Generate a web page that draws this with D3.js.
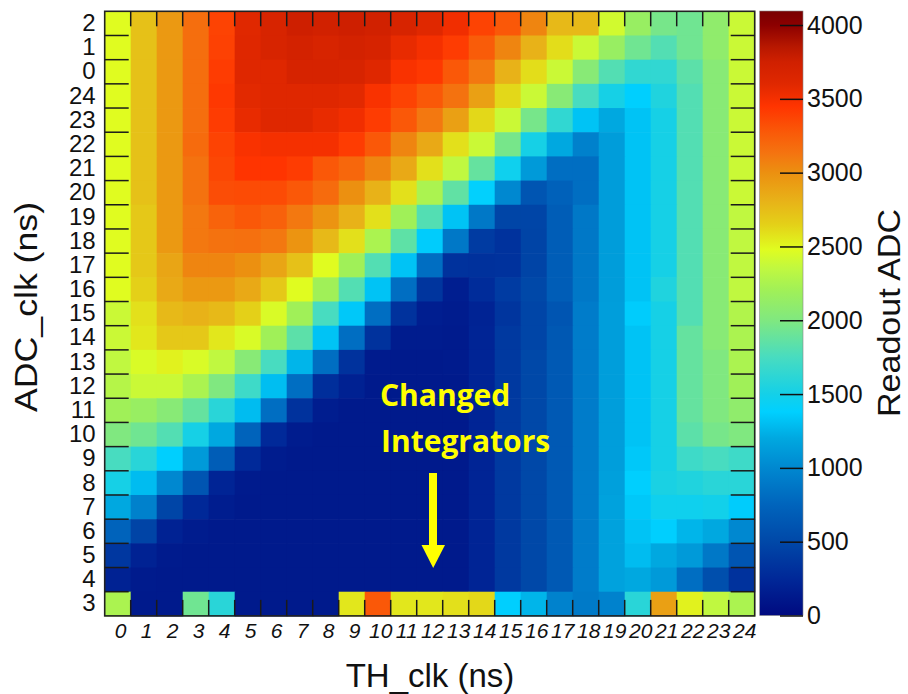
<!DOCTYPE html>
<html><head><meta charset="utf-8">
<script src="https://cdn.jsdelivr.net/npm/d3@7"></script>
<style>body{margin:0;background:#fff}svg{display:block}</style>
</head><body>
<svg id="c" width="908" height="694"></svg>
<script>
// ---- data ----
const xLabels = ["0","1","2","3","4","5","6","7","8","9","10","11","12","13","14","15","16","17","18","19","20","21","22","23","24"];
const yLabels = ["2","1","0","24","23","22","21","20","19","18","17","16","15","14","13","12","11","10","9","8","7","6","5","4","3"]; // top to bottom
const values = [
[2480,2730,2950,3160,3380,3600,3680,3760,3740,3760,3740,3680,3600,3520,3380,3280,3050,2770,2770,2420,2150,1960,1930,2100,2390],
[2480,2730,2950,3160,3390,3610,3680,3720,3680,3720,3690,3560,3500,3410,3260,3050,2810,2600,2390,2150,1930,1800,1930,2100,2390],
[2480,2730,2950,3160,3410,3610,3610,3690,3690,3680,3610,3480,3430,3280,3110,2810,2600,2390,2050,1800,1640,1640,1840,2050,2390],
[2480,2730,2950,3160,3430,3590,3610,3610,3610,3590,3480,3380,3280,3140,2910,2620,2390,2050,1750,1510,1375,1560,1800,2050,2390],
[2480,2730,2950,3160,3410,3560,3610,3610,3560,3520,3410,3280,3110,2910,2620,2390,1960,1640,1320,1200,1320,1510,1800,2050,2390],
[2480,2730,2950,3180,3380,3480,3500,3500,3500,3410,3280,3050,2860,2590,2390,1960,1510,1200,950,1130,1320,1510,1800,2050,2390],
[2480,2730,2950,3140,3360,3450,3450,3410,3280,3200,3050,2860,2590,2350,1880,1470,1110,820,820,1130,1320,1510,1800,2050,2390],
[2480,2730,2950,3140,3330,3340,3340,3280,3180,3000,2810,2590,2250,1860,1390,1000,620,720,820,1130,1320,1510,1800,2050,2390],
[2480,2690,2950,3110,3220,3280,3230,3110,2980,2810,2590,2200,1800,1320,890,480,480,690,890,1130,1320,1510,1800,2050,2350],
[2480,2690,2950,3110,3140,3150,3110,2980,2770,2590,2250,1850,1360,890,400,330,470,690,890,1130,1320,1510,1800,2050,2350],
[2480,2690,2880,3050,3050,3000,2880,2730,2480,2200,1800,1320,820,330,320,330,470,690,890,1130,1320,1510,1800,2050,2350],
[2480,2650,2860,2950,2950,2860,2690,2480,2200,1800,1320,820,350,170,280,400,500,690,890,1130,1320,1560,1800,2050,2350],
[2390,2590,2770,2810,2770,2650,2450,2200,1750,1345,820,330,170,150,210,350,480,620,920,1140,1360,1510,1800,2050,2280],
[2390,2560,2690,2690,2560,2450,2200,1840,1320,820,330,150,150,140,220,380,480,640,920,1140,1320,1510,1880,2050,2250],
[2350,2450,2520,2450,2350,2050,1750,1260,820,330,140,130,130,140,220,380,500,650,920,1140,1320,1510,1880,2000,2250],
[2300,2390,2390,2250,2000,1700,1300,820,300,190,130,130,130,130,220,380,500,650,920,1140,1320,1510,1880,2000,2200],
[2200,2150,2050,1880,1600,1290,820,330,160,130,130,130,130,130,220,380,500,650,920,1140,1320,1510,1880,2000,2100],
[2000,1930,1800,1510,1200,740,260,150,130,130,130,130,130,130,220,380,500,650,920,1140,1320,1510,1840,1960,2000],
[1750,1600,1375,1110,690,260,150,130,130,130,130,130,130,130,220,380,500,650,920,1140,1345,1510,1700,1750,1700],
[1510,1290,1000,620,220,140,130,130,130,130,130,130,130,130,220,380,500,650,920,1150,1375,1530,1560,1600,1600],
[1200,950,480,250,160,130,130,130,130,130,130,130,130,130,220,380,500,650,920,1160,1345,1470,1470,1490,1360],
[740,470,200,150,130,130,130,130,130,130,130,130,130,130,220,380,500,650,920,1160,1320,1375,1260,1200,1000],
[370,200,140,130,130,130,130,130,130,130,130,130,130,130,220,380,500,650,920,1160,1290,1200,1110,890,620],
[200,140,130,130,130,130,130,130,130,130,130,130,130,130,220,380,500,650,920,1160,1200,1110,820,560,330],
[2250,130,130,1930,1600,130,130,130,130,2560,3280,2560,2560,2590,2620,1375,1260,960,900,960,1600,2910,2520,2350,2250]
];
const zTicks = [0,500,1000,1500,2000,2500,3000,3500,4000];
const zMax = 4095;
const zStops  = [0,250,500,750,1000,1200,1380,1500,1750,2000,2200,2350,2480,2650,2820,3000,3130,3280,3450,3600,3750,3850,4000,4095];
const zColors = ["#000a80","#002898","#0048a8","#0064bc","#0088d0","#00a8e0","#00d0ff","#14d0e8","#48dcc0","#80e880","#a0f058","#c0f840","#e0fc20","#e4d018","#e8b018","#ec9010","#f47410","#fa5808","#ff3400","#e02800","#d02000","#b81800","#8c0000","#780000"];

// ---- layout ----
const L = 104.7, R = 754.7, T = 11.3, B = 615.9;
const svg = d3.select("#c");
const x = d3.scaleBand().domain(xLabels).range([L, R]);
const y = d3.scaleBand().domain(yLabels).range([T, B]);
const color = d3.scaleLinear().domain(zStops).range(zColors).clamp(true);

const cells = [];
values.forEach((row, i) => row.forEach((v, j) => cells.push({xl: xLabels[j], yl: yLabels[i], v})));
svg.append("g").selectAll("rect").data(cells).join("rect")
  .attr("x", d => x(d.xl)).attr("y", d => y(d.yl))
  .attr("width", x.bandwidth() + 0.6).attr("height", y.bandwidth() + 0.6)
  .attr("fill", d => color(d.v));

// frame
svg.append("rect").attr("x", L).attr("y", T).attr("width", R - L).attr("height", B - T)
  .attr("fill", "none").attr("stroke", "#222").attr("stroke-width", 1.6);

// ticks at bin edges
const tk = svg.append("g").attr("stroke", "#1a1a1a").attr("stroke-width", 1.5);
xLabels.slice(1).forEach(l => {
  const px = x(l);
  tk.append("line").attr("x1", px).attr("x2", px).attr("y1", T).attr("y2", T + 15);
  tk.append("line").attr("x1", px).attr("x2", px).attr("y1", B).attr("y2", B - 16);
});
yLabels.slice(1).forEach(l => {
  const py = y(l);
  tk.append("line").attr("x1", L).attr("x2", L + 24).attr("y1", py).attr("y2", py);
  tk.append("line").attr("x1", R).attr("x2", R - 24).attr("y1", py).attr("y2", py);
});

// axis labels
const ya = svg.append("g").attr("transform", `translate(${L},0)`)
  .call(d3.axisLeft(y).tickSize(0).tickPadding(9));
ya.select(".domain").remove();
ya.selectAll("text").attr("font-family", "Liberation Sans, Arial, sans-serif").attr("font-size", 24).attr("fill", "#111");

const xa = svg.append("g").attr("transform", `translate(3,${B})`)
  .call(d3.axisBottom(x).tickSize(0).tickPadding(7));
xa.select(".domain").remove();
xa.selectAll("text").attr("font-family", "Liberation Sans, Arial, sans-serif").attr("font-size", 21)
  .attr("font-style", "italic").attr("fill", "#111");

// titles
svg.append("text").attr("x", 430).attr("y", 687).attr("text-anchor", "middle")
  .attr("font-family", "Liberation Sans, Arial, sans-serif").attr("font-size", 33).attr("fill", "#111")
  .text("TH_clk (ns)");
svg.append("text").attr("transform", "translate(37,307) rotate(-90)").attr("text-anchor", "middle")
  .attr("font-family", "Liberation Sans, Arial, sans-serif").attr("font-size", 32).attr("fill", "#111")
  .attr("textLength", 210).attr("lengthAdjust", "spacingAndGlyphs")
  .text("ADC_clk (ns)");

// colour bar
const CL = 759.7, CR = 803, CT = 11, CB = 615.5;
const z = d3.scaleLinear().domain([0, zMax]).range([CB, CT]);
const grad = svg.append("defs").append("linearGradient").attr("id", "zg")
  .attr("x1", 0).attr("y1", 1).attr("x2", 0).attr("y2", 0);
zStops.forEach((s, i) => grad.append("stop").attr("offset", s / zMax).attr("stop-color", zColors[i]));
svg.append("rect").attr("x", CL).attr("y", CT).attr("width", CR - CL).attr("height", CB - CT)
  .attr("fill", "url(#zg)").attr("stroke", "#888").attr("stroke-width", 0.6);
const za = svg.append("g").attr("transform", `translate(${CR},0)`)
  .call(d3.axisRight(z).tickValues(zTicks).tickSize(-23).tickPadding(4).tickFormat(d3.format("d")));
za.select(".domain").remove();
za.selectAll("line").attr("stroke", "#111").attr("stroke-width", 1.5);
za.selectAll("text").attr("font-family", "Liberation Sans, Arial, sans-serif").attr("font-size", 25).attr("fill", "#111");
svg.append("text").attr("transform", "translate(900,313) rotate(-90)").attr("text-anchor", "middle")
  .attr("font-family", "Liberation Sans, Arial, sans-serif").attr("font-size", 31).attr("fill", "#111")
  .attr("textLength", 208).attr("lengthAdjust", "spacingAndGlyphs")
  .text("Readout ADC");

// annotation
const ann = svg.append("g").attr("fill", "#ffff00");
ann.append("text").attr("x", 380).attr("y", 406).attr("font-family", "Open Sans, sans-serif")
  .attr("font-weight", "bold").attr("font-size", 30).text("Changed");
ann.append("text").attr("x", 381).attr("y", 452).attr("font-family", "Open Sans, sans-serif")
  .attr("font-weight", "bold").attr("font-size", 30).text("Integrators");
ann.append("rect").attr("x", 429).attr("y", 473).attr("width", 8).attr("height", 74);
ann.append("path").attr("d", "M421.5,545 L445,545 L433.2,568 Z");
</script>
</body></html>
